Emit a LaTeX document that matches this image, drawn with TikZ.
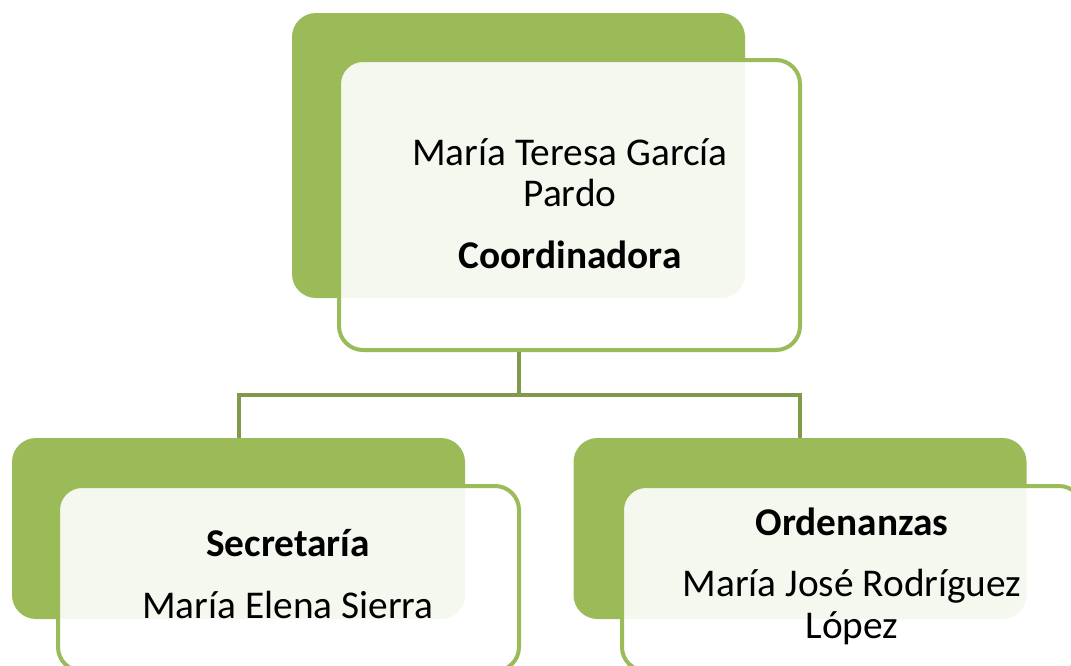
\documentclass[tikz,border=0pt]{standalone}
\usepackage{fontspec}
\setmainfont{Carlito}
\usepackage{xcolor}
\usetikzlibrary{positioning,calc}

\definecolor{leafgreen}{HTML}{9BBB59}
\definecolor{stemgreen}{HTML}{7F9A48}

\tikzset{
    backbox/.style={rectangle, rounded corners=18pt, fill=leafgreen,
        minimum width=339.75pt},
    frontbox/.style={rectangle, rounded corners=18pt, draw=leafgreen,
        line width=3pt, fill=white, fill opacity=0.9, minimum width=345.75pt},
    boxtext/.style={anchor=base, inner sep=0pt, align=center,
        font=\fontsize{29.5pt}{31pt}\selectfont},
    link/.style={draw=stemgreen, line width=3pt}
}

\begin{document}
\begin{tikzpicture}[x=0.75pt, y=-0.75pt]
    \useasboundingbox (0,0) rectangle (1071,665);

    % Coordinadora
    \node[backbox, minimum height=213.75pt] (coordBack) at (518.5,155.5) {};
    \node[frontbox, minimum height=217.5pt] (coordFront) at (569.5,205) {};
    \node[boxtext] (coordText) at (570,268) {María Teresa García\\Pardo\\[15pt]\textbf{Coordinadora}};

    % Secretaria
    \node[backbox, minimum height=135.75pt] (secBack) at (238.5,528.5) {};
    \node[frontbox, minimum height=138.75pt] (secFront) at (288.5,578.5) {};
    \node[boxtext] (secText) at (288,618) {\textbf{Secretaría}\\[15pt]María Elena Sierra};

    % Ordenanzas
    \node[backbox, minimum height=135.75pt] (ordBack) at (800,528.5) {};
    \node[frontbox, minimum height=138.75pt] (ordFront) at (852.5,578.5) {};
    \node[boxtext] (ordText) at (852,638) {\textbf{Ordenanzas}\\[15pt]María José Rodríguez\\López};

    % Connectors
    \coordinate (hub) at (518.5,395);
    \draw[link] (coordBack.south |- coordFront.south) -- (hub) -| (secBack.north);
    \draw[link] (hub) -| (ordBack.north);
\end{tikzpicture}
\end{document}
